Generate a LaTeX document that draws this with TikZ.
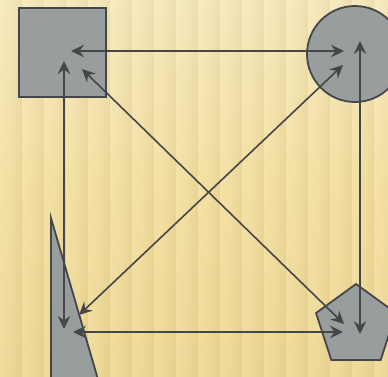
\documentclass[tikz,border=0pt]{standalone}
\usepackage{xcolor}
\usepackage{tikz}
\usetikzlibrary{arrows.meta, shapes.geometric}
\definecolor{bgL}{RGB}{244,226,166}
\definecolor{bgD}{RGB}{230,207,140}
\definecolor{shapeF}{RGB}{152,157,158}
\definecolor{lineC}{RGB}{70,70,72}

\tikzset{
    figure/.style={draw=lineC, fill=shapeF, line width=1.8pt, inner sep=0pt},
    link/.style={lineC, line width=1.6pt,
        {Stealth[length=13pt, width=12.5pt, inset=4.5pt]}-{Stealth[length=13pt, width=12.5pt, inset=4.5pt]}}
}

\begin{document}
\begin{tikzpicture}[x=1pt, y=-1pt]

    %% Frame and background stripes
    \useasboundingbox (0,0) rectangle (388,376);
    \clip (0,0) rectangle (388,376);
    \fill[bgL] (0,0) rectangle (388,376);
    \foreach \i in {0,...,17} {
        \shade[left color=bgL, right color=bgD, middle color=bgL!70!bgD]
            ({\i*22},0) rectangle ({\i*22+22},376);
    }
    \shade[top color=white, bottom color=bgD, middle color=bgL, opacity=0.3]
        (0,0) rectangle (388,376);

    %% --- Four figures ---
    \node[figure, rectangle, minimum width=87pt, minimum height=89pt] (sq) at (62.5,52.5) {};
    \node[figure, circle, minimum size=96pt] (circ) at (355,54) {};
    \node[figure, regular polygon, regular polygon sides=5, minimum size=84pt] (pent) at (356,326) {};
    \coordinate (triTop) at (51,218);
    \filldraw[draw=lineC, fill=shapeF, line width=1.8pt]
        (triTop) -- (51,400) -- (104,400) -- cycle;

    %% Arrow ends inside the figures
    \coordinate (sqR) at (71,51);
    \coordinate (sqB) at (64,61);
    \coordinate (sqD) at (82,69);
    \coordinate (circL) at (344,51);
    \coordinate (circB) at (360,41);
    \coordinate (circD) at (343,65);
    \coordinate (pentL) at (343,332);
    \coordinate (pentT) at (360,334);
    \coordinate (pentD) at (344,324);
    \coordinate (triT) at (64,329);
    \coordinate (triR) at (73,332);
    \coordinate (triD) at (79,315);

    %% --- Connectors ---
    \draw[link] (sqR) -- (circL);
    \draw[link] (sqB) -- (triT);
    \draw[link] (circB) -- (pentT);
    \draw[link] (triR) -- (pentL);
    \draw[link] (sqD) -- (pentD);
    \draw[link] (circD) -- (triD);

\end{tikzpicture}
\end{document}
